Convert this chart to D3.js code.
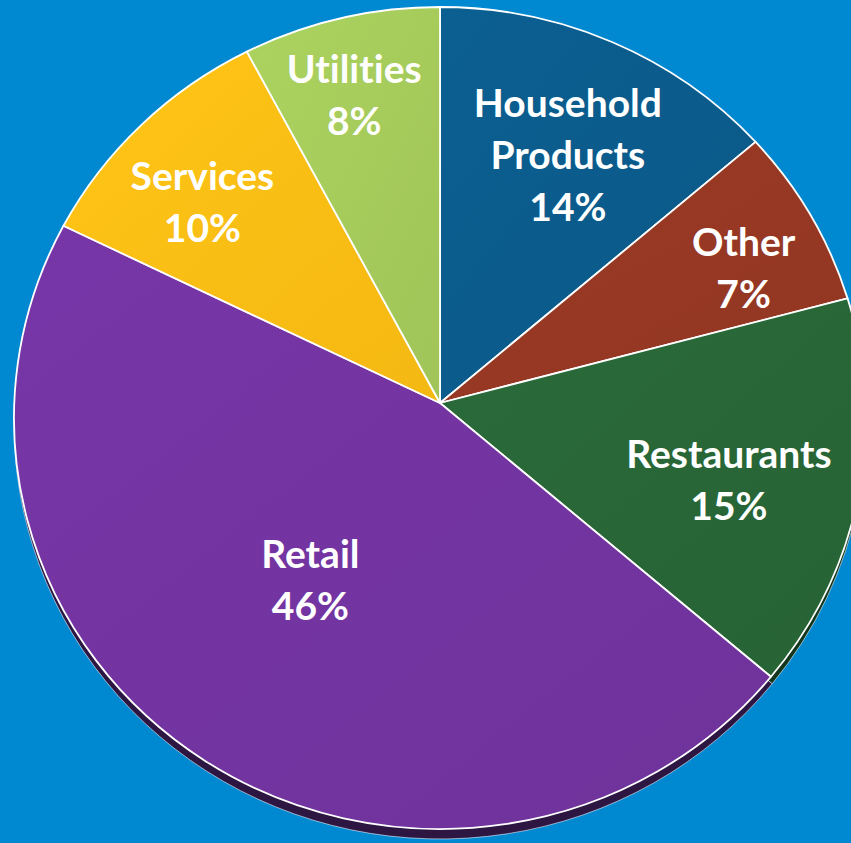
<!DOCTYPE html>
<html>
<head>
<meta charset="utf-8">
<script src="https://cdn.jsdelivr.net/npm/d3@7"></script>
<style>
  html, body { margin: 0; padding: 0; background: #0088d1; overflow: hidden; }
  svg { display: block; }
  text { font-variant-ligatures: none; }
</style>
</head>
<body>
<svg id="chart"></svg>
<script>
// data, clockwise from 12 o'clock
const categories = ["Household Products", "Other", "Restaurants", "Retail", "Services", "Utilities"];
const shares = [14, 7, 15, 46, 10, 8];
const faceColors = ["#0b5b8b", "#953823", "#286637", "#7234a0", "#fbbd14", "#a5ca5b"];
const sideColors = ["#06314c", "#4e1c11", "#13361c", "#2e1642", "#7d5e08", "#52652c"];

const width = 851;
const height = 843;

// the pie is drawn a bit tilted, so the outline is an ellipse and the
// meeting point of the slices sits above its centre
const apex = { x: 440, y: 403 };
const face = { cx: 440, cy: 418, rx: 426, ry: 411 };
const side = { cx: 440, cy: 424, rx: 426, ry: 415 };

const data = categories.map((c, i) => ({ name: c, value: shares[i], color: faceColors[i], dark: sideColors[i] }));
const pie = d3.pie().sort(null).value(d => d.value);
const arcs = pie(data);

const svg = d3.select("#chart").attr("width", width).attr("height", height);

svg.append("rect").attr("width", width).attr("height", height).attr("fill", "#0088d1");

// point where a ray from the apex meets the ellipse
function edgePoint(theta, e, ax, ay) {
    const dx = Math.sin(theta), dy = -Math.cos(theta);
    const ox = (ax - e.cx) / e.rx, oy = (ay - e.cy) / e.ry;
    const ux = dx / e.rx, uy = dy / e.ry;
    const a = ux * ux + uy * uy;
    const b = 2 * (ox * ux + oy * uy);
    const c = ox * ox + oy * oy - 1;
    const t = (-b + Math.sqrt(b * b - 4 * a * c)) / (2 * a);
    return [ax + t * dx, ay + t * dy];
}

function slicePath(d, e, ax, ay) {
    const p0 = edgePoint(d.startAngle, e, ax, ay);
    const p1 = edgePoint(d.endAngle, e, ax, ay);
    // sweep measured around the ellipse centre decides the large-arc flag
    const a0 = Math.atan2((p0[0] - e.cx) / e.rx, -(p0[1] - e.cy) / e.ry);
    let a1 = Math.atan2((p1[0] - e.cx) / e.rx, -(p1[1] - e.cy) / e.ry);
    let sweep = a1 - a0;
    while (sweep <= 0) sweep += 2 * Math.PI;
    const large = sweep > Math.PI ? 1 : 0;
    return `M${ax},${ay}L${p0[0]},${p0[1]}A${e.rx},${e.ry} 0 ${large} 1 ${p1[0]},${p1[1]}Z`;
}

// side walls (only the bottom rim shows)
svg.append("g")
    .selectAll("path")
    .data(arcs)
    .join("path")
    .attr("d", d => slicePath(d, side, apex.x, apex.y + 6))
    .attr("fill", d => d.data.dark)
    .attr("stroke", "rgba(255,255,255,0.55)")
    .attr("stroke-width", 1);

// subtle sheen on the faces
const defs = svg.append("defs");
arcs.forEach((d, i) => {
    const g = defs.append("linearGradient")
        .attr("id", "grad" + i)
        .attr("x1", "0%").attr("y1", "0%")
        .attr("x2", "100%").attr("y2", "100%");
    g.append("stop").attr("offset", "0%").attr("stop-color", d3.color(d.data.color).brighter(0.12));
    g.append("stop").attr("offset", "100%").attr("stop-color", d3.color(d.data.color).darker(0.08));
});

svg.append("g")
    .selectAll("path")
    .data(arcs)
    .join("path")
    .attr("d", d => slicePath(d, face, apex.x, apex.y))
    .attr("fill", (d, i) => `url(#grad${i})`)
    .attr("stroke", "#ffffff")
    .attr("stroke-width", 1.8)
    .attr("stroke-linejoin", "round");

// labels: pushed outward along the middle of the slice until the text
// block just fits inside the pie ("best fit")
const fontSize = 39;
const lineHeight = 52;
const capHeight = 27;
const fitFactor = 0.955;

function fits(cx, cy, w, h) {
    const corners = [[cx - w / 2, cy - h / 2], [cx + w / 2, cy - h / 2],
                     [cx - w / 2, cy + h / 2], [cx + w / 2, cy + h / 2]];
    return corners.every(([x, y]) => {
        const u = (x - face.cx) / face.rx, v = (y - face.cy) / face.ry;
        return Math.sqrt(u * u + v * v) <= fitFactor;
    });
}

svg.append("g")
    .selectAll("text")
    .data(arcs)
    .join("text")
    .attr("text-anchor", "middle")
    .attr("fill", "#ffffff")
    .attr("font-family", "Lato, 'Open Sans', sans-serif")
    .attr("font-weight", "bold")
    .attr("font-size", fontSize)
    .each(function (d) {
        const lines = d.data.name.split(" ").concat([d.data.value + "%"]);
        const sel = d3.select(this);
        const spans = sel.selectAll("tspan").data(lines).join("tspan").text(l => l);
        let w = 0;
        spans.each(function () { w = Math.max(w, this.getComputedTextLength()); });
        const h = capHeight + (lines.length - 1) * lineHeight;

        const mid = (d.startAngle + d.endAngle) / 2;
        let cx, cy;
        if (d.value > 40) {
            // big slice: label sits half way out from the apex
            const r = 0.535 * face.ry;
            const a = mid + 0.065;
            cx = apex.x + r * Math.sin(a);
            cy = apex.y - r * Math.cos(a);
        } else {
            for (let k = 0.95; k > 0.2; k -= 0.005) {
                cx = face.cx + k * face.rx * Math.sin(mid);
                cy = face.cy - k * face.ry * Math.cos(mid);
                if (fits(cx, cy, w, h)) break;
            }
        }
        const first = cy - h / 2 + capHeight;
        spans.attr("x", cx).attr("y", (l, k) => first + k * lineHeight);
    });
</script>
</body>
</html>
